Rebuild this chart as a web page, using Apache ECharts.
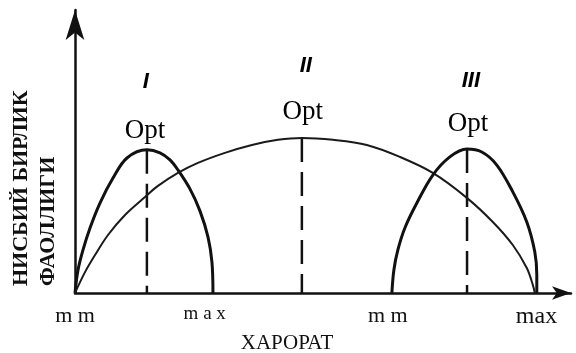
<!DOCTYPE html>
<html>
<head>
<meta charset="utf-8">
<script src="https://cdn.jsdelivr.net/npm/echarts@6/dist/echarts.min.js"></script>
<style>
html,body{margin:0;padding:0;background:#fff;}
#chart{width:576px;height:353px;}
</style>
</head>
<body>
<div id="chart"></div>
<script>
// Curves (x: temperature units, y: relative activity units)
const curveI = [[0,0],[0.62,8.5],[1.65,15.9],[3.09,24.0],[5.14,33.2],[7.82,42.4],[10.7,49.8],[14.81,52.8],[17.49,51.7],[19.55,49.1],[21.19,45.4],[23.66,38.4],[25.72,30.3],[27.37,20.7],[28.19,11.4],[28.4,0]];
const curveII = [[0,0],[2.06,7.7],[4.12,14.0],[6.79,21.4],[10.29,28.8],[14.4,35.4],[17.08,39.5],[21.19,44.3],[25.31,48.0],[30.86,51.7],[36.42,54.6],[41.77,56.5],[46.71,57.2],[53.09,56.5],[60.08,54.6],[66.87,50.2],[73.66,44.3],[80.66,35.1],[86.01,26.2],[90.12,17.7],[93.0,9.2],[94.24,3.0],[94.65,0]];
const curveIII = [[65.23,0],[65.64,8.5],[66.46,15.9],[67.9,24.0],[70.37,33.2],[73.66,43.5],[77.16,50.2],[80.66,53.1],[83.74,52.0],[86.83,47.2],[90.12,37.3],[93.0,26.2],[94.65,15.1],[95.06,6.6],[95.06,0]];

// Optimum positions and heights
const optX = [14.8, 46.7, 80.7];
const optY = [52.8, 57.2, 53.1];

// Annotation labels
const numerals = ['I', 'II', 'III'];
const numeralPos = [[14.6, 77.9], [47.5, 83.8], [81.5, 78.2]];
const optLabel = 'Opt';
const optLabelPos = [[14.4, 59.8], [46.9, 66.8], [80.9, 62.4]];

// X tick labels
const tickValues = [0, 26.7, 64.4, 95];
const tickLabels = ['m m', 'm a x', 'm m', 'max'];
const tickStyles = ['a', 'b', 'a', 'c'];

const xTitle = 'ХАРОРАТ';
const yTitle = 'НИСБИЙ БИРЛИК\nФАОЛЛИГИ';

const serif = '"Liberation Serif","DejaVu Serif",serif';
const chart = echarts.init(document.getElementById('chart'), null, {renderer: 'canvas'});

const dashedSeries = optX.map((x, i) => ({
  type: 'line',
  data: [[x, optY[i]], [x, 0]],
  symbol: 'none',
  lineStyle: {color: '#111', width: 2.5, type: [24, 10]},
  z: 3
}));

chart.setOption({
  animation: false,
  backgroundColor: '#fff',
  grid: {left: 75, right: 5, top: 10, bottom: 60, containLabel: false},
  xAxis: {
    type: 'value', min: 0, max: 102.1,
    splitLine: {show: false},
    axisTick: {show: false},
    axisLine: {show: true, lineStyle: {color: '#111', width: 2.5}, symbol: ['none', 'arrow'], symbolSize: [10, 19]},
    axisLabel: {
      show: true,
      customValues: tickValues,
      margin: 12,
      color: '#111',
      formatter: function (v) {
        let best = 0;
        for (let i = 0; i < tickValues.length; i++) {
          if (Math.abs(tickValues[i] - v) < Math.abs(tickValues[best] - v)) best = i;
        }
        return '{' + tickStyles[best] + '|' + tickLabels[best] + '}';
      },
      rich: {
        a: {fontFamily: serif, fontSize: 22, color: '#111'},
        b: {fontFamily: serif, fontSize: 19, color: '#111'},
        c: {fontFamily: serif, fontSize: 24, color: '#111'}
      }
    }
  },
  yAxis: {
    type: 'value', min: 0, max: 104.4,
    splitLine: {show: false},
    axisTick: {show: false},
    axisLabel: {show: false},
    axisLine: {show: true, onZero: false, lineStyle: {color: '#111', width: 2.5}, symbol: ['none', 'arrow'], symbolSize: [14, 30]}
  },
  graphic: [
    {
      type: 'text', x: 287, y: 343,
      style: {text: xTitle, fontFamily: serif, fontSize: 21, fill: '#111', align: 'center', verticalAlign: 'middle'}
    },
    {
      type: 'text', x: 34.5, y: 286, rotation: Math.PI / 2,
      style: {text: yTitle, fontFamily: serif, fontWeight: 'bold', fontSize: 22, lineHeight: 27, fill: '#111', align: 'left', verticalAlign: 'middle'}
    }
  ],
  series: [
    {type: 'line', data: curveI, symbol: 'none', smooth: 0.35, lineStyle: {color: '#111', width: 3}, z: 4},
    {type: 'line', data: curveII, symbol: 'none', smooth: 0.35, lineStyle: {color: '#1a1a1a', width: 2}, z: 4},
    {type: 'line', data: curveIII, symbol: 'none', smooth: 0.35, lineStyle: {color: '#111', width: 3}, z: 4},
    ...dashedSeries,
    {
      type: 'scatter', symbolSize: 0, itemStyle: {opacity: 1},
      data: numeralPos.map((p, i) => [p[0], p[1], numerals[i]]),
      label: {show: true, position: 'inside', formatter: p => p.data[2], opacity: 1,
        fontFamily: '"Liberation Sans","DejaVu Sans",sans-serif', fontStyle: 'italic', fontWeight: 'bold', fontSize: 22, color: '#000'}
    },
    {
      type: 'scatter', symbolSize: 0, itemStyle: {opacity: 1},
      data: optLabelPos.map(p => [p[0], p[1], optLabel]),
      label: {show: true, position: 'inside', formatter: p => p.data[2], opacity: 1,
        fontFamily: serif, fontSize: 27, color: '#000'}
    }
  ]
});
</script>
</body>
</html>
